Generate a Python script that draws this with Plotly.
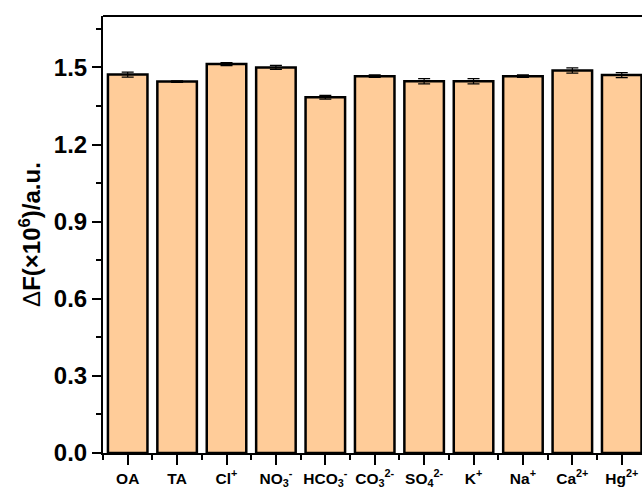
import plotly.graph_objects as go

# Fluorescence response of the probe towards co-existing species
labels = ["OA", "TA", "Cl<sup>+</sup>", "NO<sub>3</sub><sup>-</sup>", "HCO<sub>3</sub><sup>-</sup>",
          "CO<sub>3</sub><sup>2-</sup>", "SO<sub>4</sub><sup>2-</sup>", "K<sup>+</sup>",
          "Na<sup>+</sup>", "Ca<sup>2+</sup>", "Hg<sup>2+</sup>"]
delta_f = [1.472, 1.445, 1.513, 1.500, 1.384, 1.466, 1.446, 1.446, 1.466, 1.488, 1.470]
err = [0.010, 0.003, 0.006, 0.008, 0.007, 0.005, 0.010, 0.010, 0.005, 0.010, 0.010]
y_ticks = [0.0, 0.3, 0.6, 0.9, 1.2, 1.5]

positions = list(range(1, len(labels) + 1))
font_family = "Liberation Sans, Arial, sans-serif"

fig = go.Figure()
fig.add_trace(go.Bar(
    x=positions,
    y=delta_f,
    width=0.8,
    marker=dict(color="#FFCC99", line=dict(color="black", width=2.5)),
    error_y=dict(type="data", array=err, visible=True,
                 color="black", thickness=1.2, width=6),
))

fig.update_layout(
    width=642,
    height=491,
    margin=dict(l=103, r=0, t=16, b=38),
    paper_bgcolor="white",
    plot_bgcolor="white",
    showlegend=False,
    bargap=0.2,
    font=dict(family=font_family, color="black"),
    xaxis=dict(
        range=[0.5, 11.41],
        tickmode="array",
        tickvals=positions,
        ticktext=["<b>%s</b>" % t for t in labels],
        tickfont=dict(size=15.5, family=font_family, color="black"),
        ticks="outside", ticklen=10, tickwidth=2, tickcolor="black",
        minor=dict(tickmode="linear", tick0=0.5, dtick=1, ticks="outside",
                   ticklen=5, tickwidth=2, tickcolor="black"),
        showline=True, linecolor="black", linewidth=2,
        showgrid=False, zeroline=False,
    ),
    yaxis=dict(
        range=[0, 1.7],
        tickmode="array",
        tickvals=y_ticks,
        ticktext=["<b>%.1f</b>" % v for v in y_ticks],
        tickfont=dict(size=24, family=font_family, color="black"),
        ticks="outside", ticklen=9, tickwidth=2, tickcolor="black",
        minor=dict(tickmode="linear", tick0=0.15, dtick=0.3, ticks="outside",
                   ticklen=5, tickwidth=2, tickcolor="black"),
        showline=True, linecolor="black", linewidth=2,
        showgrid=False, zeroline=False,
        title=dict(text="Δ<b>F(×10<sup>6</sup>)/a.u.</b>",
                   font=dict(size=24, family=font_family, color="black"),
                   standoff=6),
    ),
    shapes=[dict(type="line", xref="paper", yref="paper", x0=0, x1=1, y0=1, y1=1,
                 line=dict(color="black", width=2))],
)

fig.write_html("out.html")
